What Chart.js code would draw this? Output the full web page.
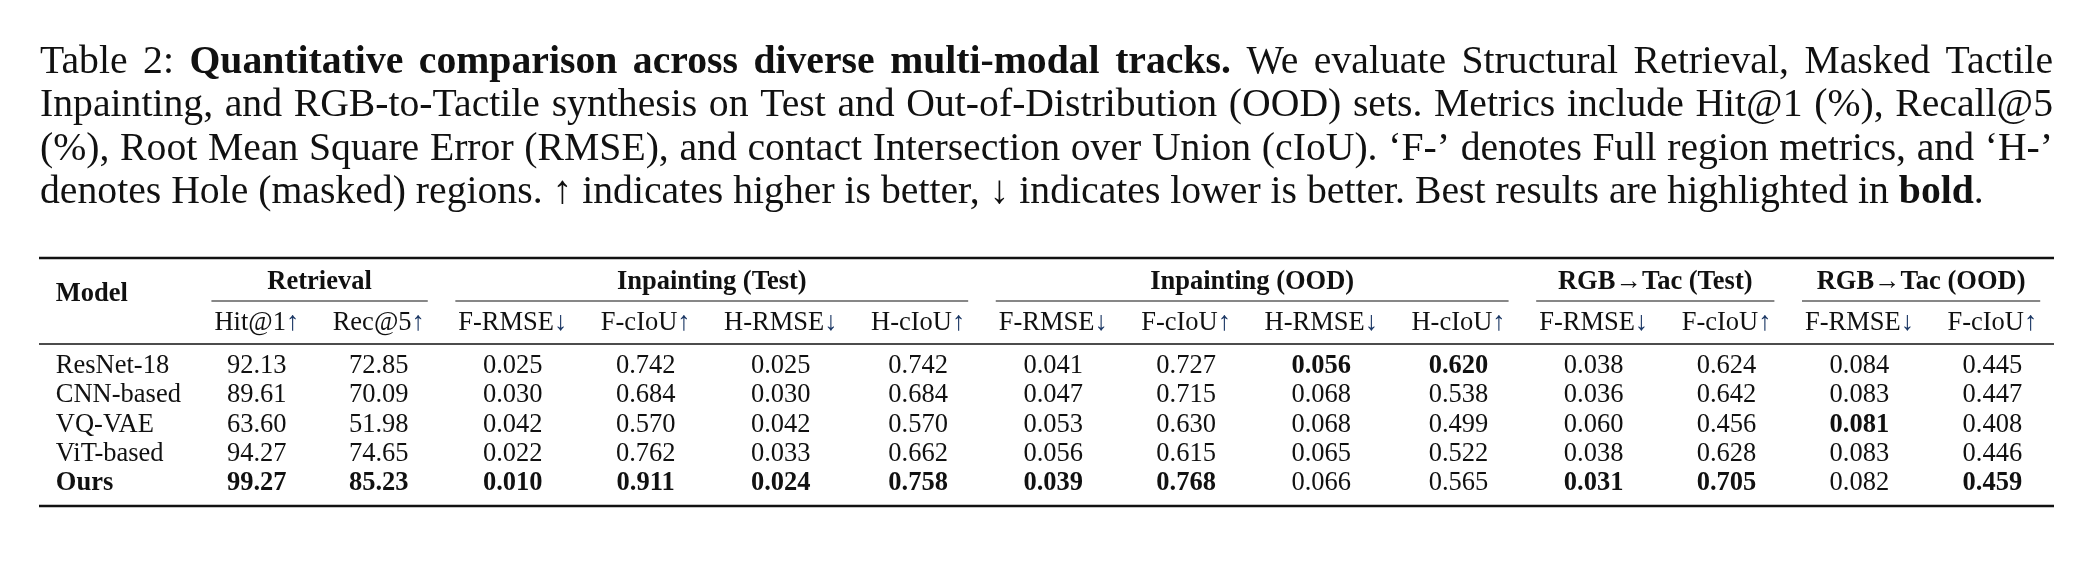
<!DOCTYPE html>
<html><head><meta charset="utf-8">
<script src="https://cdn.jsdelivr.net/npm/chart.js@4.4.1/dist/chart.umd.min.js"></script>
<style>html,body{margin:0;padding:0;background:#fff;}canvas{display:block}</style>
</head><body>
<canvas id="c" width="2100" height="572"></canvas>
<script>
// ---------- data ----------
const models = ['ResNet-18', 'CNN-based', 'VQ-VAE', 'ViT-based', 'Ours'];
const groupLabels = ['Retrieval', 'Inpainting (Test)', 'Inpainting (OOD)', 'RGB\u2192Tac (Test)', 'RGB\u2192Tac (OOD)'];
const groupSpans = [2, 4, 4, 2, 2];
const metricLabels = ['Hit@1', 'Rec@5', 'F-RMSE', 'F-cIoU', 'H-RMSE', 'H-cIoU', 'F-RMSE', 'F-cIoU', 'H-RMSE', 'H-cIoU', 'F-RMSE', 'F-cIoU', 'F-RMSE', 'F-cIoU'];
const higherIsBetter = [true, true, false, true, false, true, false, true, false, true, false, true, false, true];
const decimals = [2, 2, 3, 3, 3, 3, 3, 3, 3, 3, 3, 3, 3, 3];

const retHit1       = [92.13, 89.61, 63.60, 94.27, 99.27];
const retRec5       = [72.85, 70.09, 51.98, 74.65, 85.23];
const inpTestFRmse  = [0.025, 0.030, 0.042, 0.022, 0.010];
const inpTestFCiou  = [0.742, 0.684, 0.570, 0.762, 0.911];
const inpTestHRmse  = [0.025, 0.030, 0.042, 0.033, 0.024];
const inpTestHCiou  = [0.742, 0.684, 0.570, 0.662, 0.758];
const inpOodFRmse   = [0.041, 0.047, 0.053, 0.056, 0.039];
const inpOodFCiou   = [0.727, 0.715, 0.630, 0.615, 0.768];
const inpOodHRmse   = [0.056, 0.068, 0.068, 0.065, 0.066];
const inpOodHCiou   = [0.620, 0.538, 0.499, 0.522, 0.565];
const rgbTestFRmse  = [0.038, 0.036, 0.060, 0.038, 0.031];
const rgbTestFCiou  = [0.624, 0.642, 0.456, 0.628, 0.705];
const rgbOodFRmse   = [0.084, 0.083, 0.081, 0.083, 0.082];
const rgbOodFCiou   = [0.445, 0.447, 0.408, 0.446, 0.459];

const columns = [retHit1, retRec5, inpTestFRmse, inpTestFCiou, inpTestHRmse, inpTestHCiou,
  inpOodFRmse, inpOodFCiou, inpOodHRmse, inpOodHCiou, rgbTestFRmse, rgbTestFCiou, rgbOodFRmse, rgbOodFCiou];

const captionLines = [
  'Table 2: **Quantitative comparison across diverse multi-modal tracks.** We evaluate Structural Retrieval, Masked Tactile',
  'Inpainting, and RGB-to-Tactile synthesis on Test and Out-of-Distribution (OOD) sets. Metrics include Hit@1 (%), Recall@5',
  '(%), Root Mean Square Error (RMSE), and contact Intersection over Union (cIoU). \u2018F-\u2019 denotes Full region metrics, and \u2018H-\u2019',
  'denotes Hole (masked) regions. \u2191 indicates higher is better, \u2193 indicates lower is better. Best results are highlighted in **bold**.'
];

// ---------- styling / layout ----------
const FONT = '"Liberation Serif", "Times New Roman", serif';
const TSIZE = 26.5;
const SEP = 16.8;
const ARROW_COLOR = '#1b3764';
const INK = '#111';

const mctx = document.createElement('canvas').getContext('2d');
function tw(text, bold, size) {
  mctx.font = (bold ? 'bold ' : '') + size + 'px ' + FONT;
  return mctx.measureText(text).width;
}
function fmt(v, d) { return v.toFixed(d); }

const bestIdx = columns.map((col, j) => {
  let b = 0;
  col.forEach((v, i) => { if (higherIsBetter[j] ? v > col[b] : v < col[b]) b = i; });
  return b;
});
const arrowOf = j => higherIsBetter[j] ? '\u2191' : '\u2193';

// column widths derived from content
const colW = [];
colW.push(Math.max(tw('Model', true, TSIZE), ...models.map((m, i) => tw(m, i === models.length - 1, TSIZE))));
columns.forEach((col, j) => {
  colW.push(Math.max(tw(metricLabels[j] + arrowOf(j), false, TSIZE),
    ...col.map((v, i) => tw(fmt(v, decimals[j]), i === bestIdx[j], TSIZE))));
});
const bounds = [0];
colW.forEach(w => bounds.push(bounds[bounds.length - 1] + w + 2 * SEP));
const centers = colW.map((w, k) => (bounds[k] + bounds[k + 1]) / 2);
const totalW = bounds[bounds.length - 1];

// row layout in row units (data rows are 0..4)
const Y_MIN = -3.66, Y_MAX = 4.82;
const Y_GROUP = -2.85, Y_MODEL = -2.44, Y_CMID = -2.19, Y_SUB = -1.42, Y_MID = -0.72;
const ROW_NUDGE = 0.04;

const datasets = [{
  label: 'Model',
  data: models.map((m, i) => ({ x: bounds[0] + SEP, y: i + ROW_NUDGE })),
  texts: models.map(m => m),
  bold: models.map((m, i) => i === models.length - 1),
  align: 'left'
}];
columns.forEach((col, j) => {
  datasets.push({
    label: metricLabels[j],
    data: col.map((v, i) => ({ x: centers[j + 1], y: i + ROW_NUDGE })),
    texts: col.map(v => fmt(v, decimals[j])),
    bold: col.map((v, i) => i === bestIdx[j]),
    align: 'center'
  });
});

function drawRich(ctx, line, x, y, size, width, justify) {
  let bold = false;
  const toks = [];
  line.split(' ').forEach(w => {
    const segs = [];
    w.split('**').forEach((p, k) => {
      if (k > 0) bold = !bold;
      if (p.length) segs.push({ t: p, b: bold });
    });
    const wd = segs.reduce((s, g) => s + tw(g.t, g.b, size), 0);
    toks.push({ segs, wd });
  });
  const spaceW = tw(' ', false, size);
  const natural = toks.reduce((s, t) => s + t.wd, 0);
  const nSp = toks.length - 1;
  const sp = justify ? (width - natural) / nSp : spaceW;
  let cx = x;
  ctx.textAlign = 'left';
  ctx.textBaseline = 'alphabetic';
  toks.forEach(t => {
    let px = cx;
    t.segs.forEach(g => {
      ctx.font = (g.b ? 'bold ' : '') + size + 'px ' + FONT;
      ctx.fillText(g.t, px, y);
      px += tw(g.t, g.b, size);
    });
    cx += t.wd + sp;
  });
}

const tablePlugin = {
  id: 'tablePlugin',
  afterDatasetsDraw(chart) {
    const ctx = chart.ctx;
    const xs = chart.scales.x, ys = chart.scales.y;
    const area = chart.chartArea;
    ctx.save();
    ctx.fillStyle = INK;

    // caption: font size fitted so the (unjustified) last line spans its measured width
    const capLeft = 40, capRight = 2053;
    let unit = 0, b = false;
    captionLines[3].split('**').forEach((p, k) => { if (k > 0) b = !b; unit += tw(p, b, 100); });
    unit /= 100;
    const capSize = Math.min(42, Math.max(30, 1944 / unit));
    const capBase = [73, 116.3, 159.6, 203];
    captionLines.forEach((ln, k) => drawRich(ctx, ln, capLeft, capBase[k], capSize, capRight - capLeft, k < 3));

    // rules
    ctx.strokeStyle = INK;
    const hline = (yv, x0, x1, lw) => {
      ctx.lineWidth = lw;
      ctx.beginPath();
      const py = ys.getPixelForValue(yv);
      ctx.moveTo(x0, py); ctx.lineTo(x1, py); ctx.stroke();
    };
    hline(Y_MIN, area.left, area.right, 2.6);
    hline(Y_MID, area.left, area.right, 1.7);
    hline(Y_MAX, area.left, area.right, 2.6);

    // group headers + cmidrules
    ctx.textBaseline = 'middle';
    let c = 1;
    groupLabels.forEach((g, k) => {
      const l = bounds[c], r = bounds[c + groupSpans[k]];
      const pl = xs.getPixelForValue(l), pr = xs.getPixelForValue(r);
      ctx.font = 'bold ' + TSIZE + 'px ' + FONT;
      ctx.textAlign = 'center';
      ctx.fillText(g, (pl + pr) / 2, ys.getPixelForValue(Y_GROUP));
      const trim = xs.getPixelForValue(SEP - 3) - xs.getPixelForValue(0);
      hline(Y_CMID, pl + trim, pr - trim, 1.2);
      c += groupSpans[k];
    });

    // Model header
    ctx.font = 'bold ' + TSIZE + 'px ' + FONT;
    ctx.textAlign = 'left';
    ctx.fillText('Model', xs.getPixelForValue(bounds[0] + SEP), ys.getPixelForValue(Y_MODEL));

    // metric headers with arrows
    metricLabels.forEach((m, j) => {
      const a = arrowOf(j);
      const w1 = tw(m, false, TSIZE), w2 = tw(a, false, TSIZE);
      const cx = xs.getPixelForValue(centers[j + 1]);
      const py = ys.getPixelForValue(Y_SUB);
      ctx.font = TSIZE + 'px ' + FONT;
      ctx.textAlign = 'left';
      ctx.fillStyle = INK;
      ctx.fillText(m, cx - (w1 + w2) / 2, py);
      ctx.fillStyle = ARROW_COLOR;
      ctx.fillText(a, cx - (w1 + w2) / 2 + w1, py);
    });
    ctx.fillStyle = INK;

    // cells, positioned by the library's point elements
    chart.data.datasets.forEach((ds, di) => {
      const meta = chart.getDatasetMeta(di);
      meta.data.forEach((pt, i) => {
        ctx.font = (ds.bold[i] ? 'bold ' : '') + TSIZE + 'px ' + FONT;
        ctx.textAlign = ds.align;
        ctx.textBaseline = 'middle';
        ctx.fillText(ds.texts[i], pt.x, pt.y);
      });
    });
    ctx.restore();
  }
};

new Chart(document.getElementById('c'), {
  type: 'scatter',
  data: { datasets },
  options: {
    responsive: false,
    animation: false,
    devicePixelRatio: 1,
    layout: { padding: { left: 39, right: 46, top: 258, bottom: 66 } },
    elements: { point: { radius: 0, hoverRadius: 0 } },
    plugins: { legend: { display: false }, tooltip: { enabled: false } },
    scales: {
      x: { type: 'linear', display: false, min: 0, max: totalW },
      y: { type: 'linear', display: false, min: Y_MIN, max: Y_MAX, reverse: true }
    }
  },
  plugins: [tablePlugin]
});
</script>
</body></html>
